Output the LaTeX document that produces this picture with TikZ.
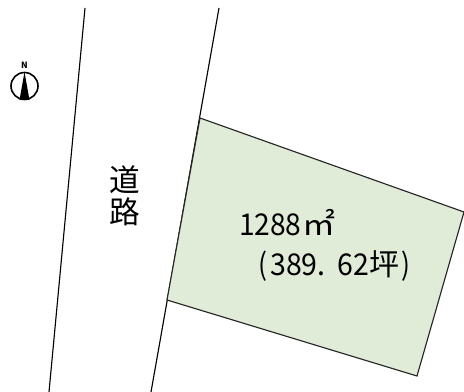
\documentclass[tikz,border=0pt]{standalone}
\usepackage{fontspec}
\newfontfamily\jpfont{Noto Sans CJK JP}
\usetikzlibrary{calc}
\definecolor{lotgreen}{RGB}{224,235,216}
\tikzset{
  roadline/.style={draw=black,line width=0.85pt},
  lot/.style={draw=black!85,line width=0.85pt,fill=lotgreen},
  lbl/.style={inner sep=0pt,outer sep=0pt,font=\jpfont,text=black},
}
\begin{document}
\begin{tikzpicture}[x=0.75pt,y=-0.75pt]
\useasboundingbox (0,0) rectangle (464,392);
\fill[white] (0,0) rectangle (464,392);
% road
\coordinate (r1a) at (85,8);
\coordinate (r1b) at (49,392);
\coordinate (r2a) at (219,8);
\coordinate (r2b) at (151,392);
\draw[roadline] (r1a) -- (r1b);
\draw[roadline] (r2a) -- (r2b);
% lot
\draw[lot] (200,118) -- (464,212) -- (417,376) -- (167,300) -- cycle;
% labels
\node[lbl,anchor=center] (road1) at (125,180) {\fontsize{23pt}{23pt}\selectfont 道};
\node[lbl,anchor=center] (road2) at (125,212) {\fontsize{23pt}{23pt}\selectfont 路};
\node[lbl,anchor=base west] (area) at (239,235) {\fontsize{22.5pt}{22.5pt}\selectfont\scalebox{0.94}[1]{1288}\kern0.5pt\scalebox{1.1}[1]{㎡}};
\node[lbl,anchor=base west] (tsubo) at (258,275) {\fontsize{22.5pt}{22.5pt}\selectfont\scalebox{0.88}[1]{(}\kern2.5pt\scalebox{0.95}[1]{389.}\kern9pt\scalebox{0.95}[1]{62}\kern0pt\scalebox{1}[1]{坪}\kern2pt\scalebox{0.88}[1]{)}};
% north mark
\node[lbl,anchor=center] (north) at (24.5,65) {\fontsize{6.5pt}{6.5pt}\selectfont\bfseries N};
\draw[line width=1.2pt] (24.5,86) circle (13.5);
\fill[black] (24.5,72) -- (29.5,100) -- (19.5,100) -- cycle;
\end{tikzpicture}
\end{document}
